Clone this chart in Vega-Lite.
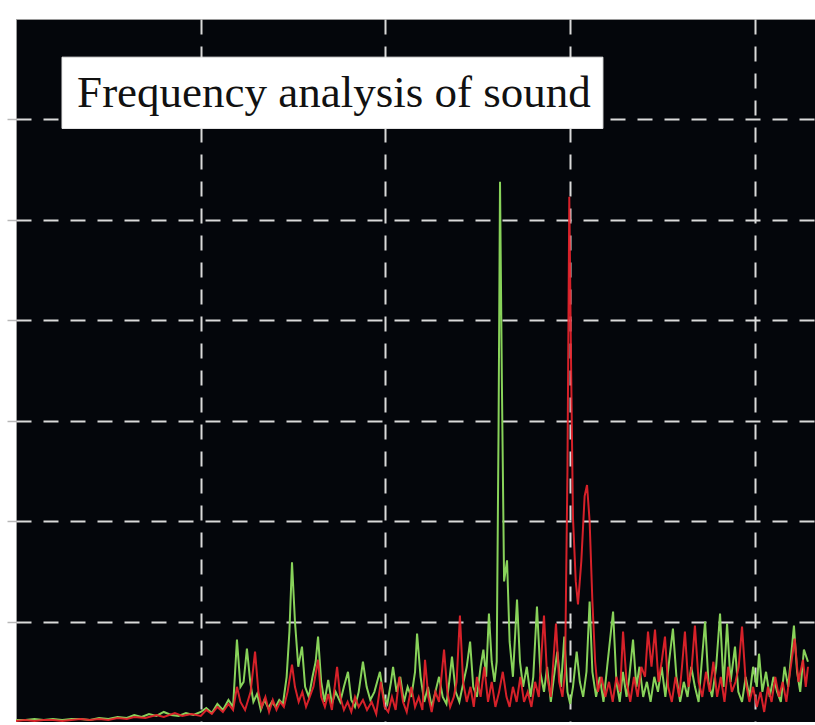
{
  "$schema": "https://vega.github.io/schema/vega-lite/v6.json",
  "width": 799,
  "height": 703,
  "autosize": {"type": "none"},
  "padding": {"left": 16, "top": 19, "right": 0, "bottom": 0},
  "background": "#ffffff",
  "config": {
    "view": {"fill": "#04060b", "stroke": "#9a9a9a", "strokeWidth": 1},
    "axis": {
      "grid": true,
      "gridColor": "#dadada",
      "gridDash": [15, 12],
      "gridWidth": 2,
      "gridOpacity": 1,
      "labels": false,
      "title": null,
      "domain": false
    }
  },
  "datasets": {
    "green": [
      {"f": 0, "a": 0.02}, {"f": 50, "a": 0.02}, {"f": 100, "a": 0.03}, {"f": 150, "a": 0.02},
      {"f": 200, "a": 0.03}, {"f": 250, "a": 0.02}, {"f": 300, "a": 0.03}, {"f": 350, "a": 0.03},
      {"f": 400, "a": 0.02}, {"f": 450, "a": 0.04}, {"f": 500, "a": 0.03}, {"f": 550, "a": 0.05},
      {"f": 600, "a": 0.04}, {"f": 640, "a": 0.07}, {"f": 680, "a": 0.05}, {"f": 720, "a": 0.08},
      {"f": 760, "a": 0.06}, {"f": 800, "a": 0.1}, {"f": 840, "a": 0.07}, {"f": 880, "a": 0.06},
      {"f": 920, "a": 0.09}, {"f": 960, "a": 0.07}, {"f": 1000, "a": 0.1}, {"f": 1030, "a": 0.14},
      {"f": 1060, "a": 0.09}, {"f": 1090, "a": 0.18}, {"f": 1120, "a": 0.12}, {"f": 1150, "a": 0.22},
      {"f": 1175, "a": 0.15}, {"f": 1196, "a": 0.82}, {"f": 1215, "a": 0.35}, {"f": 1232, "a": 0.4},
      {"f": 1250, "a": 0.73}, {"f": 1268, "a": 0.4}, {"f": 1285, "a": 0.2}, {"f": 1305, "a": 0.28},
      {"f": 1325, "a": 0.12}, {"f": 1345, "a": 0.22}, {"f": 1365, "a": 0.14}, {"f": 1385, "a": 0.2},
      {"f": 1405, "a": 0.15}, {"f": 1425, "a": 0.22}, {"f": 1445, "a": 0.18}, {"f": 1465, "a": 0.45},
      {"f": 1480, "a": 0.9}, {"f": 1494, "a": 1.59}, {"f": 1510, "a": 1.0}, {"f": 1528, "a": 0.55},
      {"f": 1548, "a": 0.75}, {"f": 1565, "a": 0.35}, {"f": 1585, "a": 0.25}, {"f": 1605, "a": 0.45},
      {"f": 1622, "a": 0.6}, {"f": 1635, "a": 0.85}, {"f": 1652, "a": 0.4}, {"f": 1670, "a": 0.2},
      {"f": 1690, "a": 0.42}, {"f": 1710, "a": 0.18}, {"f": 1730, "a": 0.3}, {"f": 1755, "a": 0.2},
      {"f": 1775, "a": 0.35}, {"f": 1797, "a": 0.5}, {"f": 1815, "a": 0.22}, {"f": 1835, "a": 0.15},
      {"f": 1855, "a": 0.3}, {"f": 1878, "a": 0.6}, {"f": 1898, "a": 0.35}, {"f": 1918, "a": 0.22},
      {"f": 1940, "a": 0.3}, {"f": 1970, "a": 0.5}, {"f": 1990, "a": 0.25}, {"f": 2010, "a": 0.18},
      {"f": 2030, "a": 0.4}, {"f": 2041, "a": 0.55}, {"f": 2060, "a": 0.3}, {"f": 2080, "a": 0.45},
      {"f": 2100, "a": 0.2}, {"f": 2120, "a": 0.35}, {"f": 2140, "a": 0.25}, {"f": 2160, "a": 0.5},
      {"f": 2171, "a": 0.88}, {"f": 2190, "a": 0.45}, {"f": 2210, "a": 0.2}, {"f": 2230, "a": 0.35},
      {"f": 2250, "a": 0.15}, {"f": 2270, "a": 0.3}, {"f": 2290, "a": 0.45}, {"f": 2310, "a": 0.25},
      {"f": 2330, "a": 0.18}, {"f": 2345, "a": 0.4}, {"f": 2360, "a": 0.65}, {"f": 2380, "a": 0.3},
      {"f": 2400, "a": 0.2}, {"f": 2420, "a": 0.38}, {"f": 2440, "a": 0.55}, {"f": 2458, "a": 0.8},
      {"f": 2475, "a": 0.35}, {"f": 2495, "a": 0.25}, {"f": 2515, "a": 0.55}, {"f": 2530, "a": 0.72},
      {"f": 2545, "a": 0.45}, {"f": 2560, "a": 1.08}, {"f": 2575, "a": 0.6}, {"f": 2590, "a": 0.4},
      {"f": 2602, "a": 0.6}, {"f": 2612, "a": 2.9}, {"f": 2620, "a": 5.38}, {"f": 2630, "a": 3.4},
      {"f": 2642, "a": 1.4}, {"f": 2658, "a": 1.61}, {"f": 2672, "a": 0.8}, {"f": 2690, "a": 0.45},
      {"f": 2712, "a": 1.22}, {"f": 2728, "a": 0.6}, {"f": 2745, "a": 0.35}, {"f": 2765, "a": 0.55},
      {"f": 2785, "a": 0.25}, {"f": 2800, "a": 0.45}, {"f": 2820, "a": 1.15}, {"f": 2838, "a": 0.5},
      {"f": 2858, "a": 0.3}, {"f": 2875, "a": 0.55}, {"f": 2895, "a": 0.2}, {"f": 2912, "a": 0.45},
      {"f": 2930, "a": 0.7}, {"f": 2950, "a": 0.35}, {"f": 2968, "a": 0.85}, {"f": 2985, "a": 0.3},
      {"f": 3000, "a": 0.18}, {"f": 3015, "a": 0.35}, {"f": 3035, "a": 0.7}, {"f": 3052, "a": 0.4},
      {"f": 3070, "a": 0.25}, {"f": 3088, "a": 0.5}, {"f": 3105, "a": 1.2}, {"f": 3120, "a": 0.5},
      {"f": 3140, "a": 0.25}, {"f": 3160, "a": 0.45}, {"f": 3180, "a": 0.2}, {"f": 3200, "a": 0.55},
      {"f": 3232, "a": 1.1}, {"f": 3250, "a": 0.4}, {"f": 3268, "a": 0.2}, {"f": 3285, "a": 0.5},
      {"f": 3305, "a": 0.25}, {"f": 3320, "a": 0.45}, {"f": 3340, "a": 0.82}, {"f": 3358, "a": 0.35},
      {"f": 3375, "a": 0.55}, {"f": 3395, "a": 0.25}, {"f": 3415, "a": 0.4}, {"f": 3435, "a": 0.2},
      {"f": 3455, "a": 0.45}, {"f": 3475, "a": 0.3}, {"f": 3495, "a": 0.55}, {"f": 3515, "a": 0.25},
      {"f": 3535, "a": 0.6}, {"f": 3556, "a": 0.93}, {"f": 3575, "a": 0.45}, {"f": 3595, "a": 0.2},
      {"f": 3615, "a": 0.4}, {"f": 3635, "a": 0.25}, {"f": 3655, "a": 0.55}, {"f": 3675, "a": 0.35},
      {"f": 3695, "a": 0.2}, {"f": 3712, "a": 0.6}, {"f": 3730, "a": 1.0}, {"f": 3748, "a": 0.4},
      {"f": 3768, "a": 0.25}, {"f": 3790, "a": 0.55}, {"f": 3811, "a": 1.08}, {"f": 3830, "a": 0.35},
      {"f": 3849, "a": 0.98}, {"f": 3868, "a": 0.4}, {"f": 3892, "a": 0.75}, {"f": 3910, "a": 0.3},
      {"f": 3930, "a": 0.2}, {"f": 3950, "a": 0.45}, {"f": 3970, "a": 0.25}, {"f": 3990, "a": 0.55},
      {"f": 4010, "a": 0.35}, {"f": 4022, "a": 0.68}, {"f": 4040, "a": 0.3}, {"f": 4060, "a": 0.5},
      {"f": 4080, "a": 0.25}, {"f": 4100, "a": 0.45}, {"f": 4120, "a": 0.3}, {"f": 4140, "a": 0.2},
      {"f": 4160, "a": 0.55}, {"f": 4180, "a": 0.35}, {"f": 4211, "a": 0.96}, {"f": 4228, "a": 0.5},
      {"f": 4245, "a": 0.3}, {"f": 4265, "a": 0.72}, {"f": 4287, "a": 0.6}
    ],
    "red": [
      {"f": 0, "a": 0.01}, {"f": 50, "a": 0.02}, {"f": 100, "a": 0.01}, {"f": 150, "a": 0.02},
      {"f": 200, "a": 0.02}, {"f": 250, "a": 0.01}, {"f": 300, "a": 0.02}, {"f": 350, "a": 0.03},
      {"f": 400, "a": 0.02}, {"f": 450, "a": 0.03}, {"f": 500, "a": 0.02}, {"f": 550, "a": 0.04},
      {"f": 600, "a": 0.03}, {"f": 640, "a": 0.05}, {"f": 700, "a": 0.04}, {"f": 760, "a": 0.07},
      {"f": 800, "a": 0.05}, {"f": 860, "a": 0.09}, {"f": 900, "a": 0.06}, {"f": 950, "a": 0.08},
      {"f": 1000, "a": 0.06}, {"f": 1030, "a": 0.12}, {"f": 1060, "a": 0.08}, {"f": 1090, "a": 0.15},
      {"f": 1120, "a": 0.1}, {"f": 1150, "a": 0.18}, {"f": 1175, "a": 0.12}, {"f": 1196, "a": 0.35},
      {"f": 1215, "a": 0.2}, {"f": 1240, "a": 0.12}, {"f": 1270, "a": 0.3}, {"f": 1294, "a": 0.7},
      {"f": 1312, "a": 0.3}, {"f": 1330, "a": 0.15}, {"f": 1350, "a": 0.25}, {"f": 1370, "a": 0.1},
      {"f": 1390, "a": 0.22}, {"f": 1410, "a": 0.12}, {"f": 1430, "a": 0.2}, {"f": 1450, "a": 0.15},
      {"f": 1470, "a": 0.3}, {"f": 1494, "a": 0.57}, {"f": 1510, "a": 0.35}, {"f": 1530, "a": 0.2},
      {"f": 1550, "a": 0.3}, {"f": 1570, "a": 0.15}, {"f": 1590, "a": 0.25}, {"f": 1610, "a": 0.35},
      {"f": 1635, "a": 0.62}, {"f": 1652, "a": 0.25}, {"f": 1672, "a": 0.15}, {"f": 1690, "a": 0.28},
      {"f": 1710, "a": 0.12}, {"f": 1738, "a": 0.55}, {"f": 1755, "a": 0.25}, {"f": 1775, "a": 0.12},
      {"f": 1795, "a": 0.2}, {"f": 1815, "a": 0.1}, {"f": 1835, "a": 0.25}, {"f": 1855, "a": 0.15},
      {"f": 1878, "a": 0.22}, {"f": 1900, "a": 0.12}, {"f": 1925, "a": 0.2}, {"f": 1950, "a": 0.08},
      {"f": 1975, "a": 0.4}, {"f": 1995, "a": 0.15}, {"f": 2015, "a": 0.1}, {"f": 2035, "a": 0.25},
      {"f": 2055, "a": 0.12}, {"f": 2075, "a": 0.45}, {"f": 2095, "a": 0.2}, {"f": 2115, "a": 0.1},
      {"f": 2140, "a": 0.35}, {"f": 2160, "a": 0.15}, {"f": 2180, "a": 0.25}, {"f": 2200, "a": 0.12},
      {"f": 2214, "a": 0.62}, {"f": 2232, "a": 0.25}, {"f": 2250, "a": 0.1}, {"f": 2270, "a": 0.3},
      {"f": 2290, "a": 0.2}, {"f": 2317, "a": 0.72}, {"f": 2335, "a": 0.3}, {"f": 2350, "a": 0.15},
      {"f": 2370, "a": 0.25}, {"f": 2385, "a": 0.4}, {"f": 2403, "a": 1.06}, {"f": 2420, "a": 0.4},
      {"f": 2440, "a": 0.2}, {"f": 2460, "a": 0.35}, {"f": 2478, "a": 0.15}, {"f": 2495, "a": 0.45},
      {"f": 2515, "a": 0.25}, {"f": 2535, "a": 0.55}, {"f": 2555, "a": 0.2}, {"f": 2575, "a": 0.4},
      {"f": 2595, "a": 0.15}, {"f": 2615, "a": 0.3}, {"f": 2635, "a": 0.5}, {"f": 2655, "a": 0.25},
      {"f": 2672, "a": 0.15}, {"f": 2690, "a": 0.35}, {"f": 2710, "a": 0.2}, {"f": 2730, "a": 0.45},
      {"f": 2750, "a": 0.2}, {"f": 2770, "a": 0.3}, {"f": 2790, "a": 0.15}, {"f": 2810, "a": 0.4},
      {"f": 2830, "a": 0.25}, {"f": 2858, "a": 1.06}, {"f": 2875, "a": 0.45}, {"f": 2895, "a": 0.25},
      {"f": 2923, "a": 0.98}, {"f": 2940, "a": 0.4}, {"f": 2958, "a": 0.25}, {"f": 2972, "a": 0.5},
      {"f": 2985, "a": 2.5}, {"f": 2995, "a": 5.23}, {"f": 3005, "a": 3.5}, {"f": 3015, "a": 2.03},
      {"f": 3030, "a": 1.4}, {"f": 3042, "a": 1.17}, {"f": 3060, "a": 1.6}, {"f": 3078, "a": 2.25},
      {"f": 3091, "a": 2.36}, {"f": 3105, "a": 2.0}, {"f": 3120, "a": 1.2}, {"f": 3135, "a": 0.6},
      {"f": 3150, "a": 0.3}, {"f": 3170, "a": 0.45}, {"f": 3190, "a": 0.25}, {"f": 3210, "a": 0.4},
      {"f": 3230, "a": 0.2}, {"f": 3250, "a": 0.45}, {"f": 3270, "a": 0.3}, {"f": 3286, "a": 0.9},
      {"f": 3305, "a": 0.4}, {"f": 3325, "a": 0.2}, {"f": 3345, "a": 0.45}, {"f": 3365, "a": 0.25},
      {"f": 3385, "a": 0.55}, {"f": 3405, "a": 0.45}, {"f": 3421, "a": 0.9}, {"f": 3440, "a": 0.55},
      {"f": 3459, "a": 0.92}, {"f": 3478, "a": 0.4}, {"f": 3495, "a": 0.6}, {"f": 3513, "a": 0.85},
      {"f": 3530, "a": 0.35}, {"f": 3550, "a": 0.2}, {"f": 3570, "a": 0.45}, {"f": 3590, "a": 0.25},
      {"f": 3605, "a": 0.55}, {"f": 3621, "a": 0.9}, {"f": 3640, "a": 0.35}, {"f": 3658, "a": 0.55},
      {"f": 3675, "a": 0.96}, {"f": 3695, "a": 0.4}, {"f": 3715, "a": 0.25}, {"f": 3735, "a": 0.5},
      {"f": 3755, "a": 0.3}, {"f": 3775, "a": 0.6}, {"f": 3795, "a": 0.25}, {"f": 3815, "a": 0.45},
      {"f": 3835, "a": 0.2}, {"f": 3855, "a": 0.55}, {"f": 3875, "a": 0.3}, {"f": 3895, "a": 0.4},
      {"f": 3912, "a": 0.55}, {"f": 3930, "a": 0.95}, {"f": 3950, "a": 0.4}, {"f": 3970, "a": 0.2},
      {"f": 3990, "a": 0.35}, {"f": 4010, "a": 0.15}, {"f": 4030, "a": 0.3}, {"f": 4050, "a": 0.1},
      {"f": 4070, "a": 0.35}, {"f": 4090, "a": 0.2}, {"f": 4110, "a": 0.45}, {"f": 4130, "a": 0.25},
      {"f": 4150, "a": 0.4}, {"f": 4170, "a": 0.2}, {"f": 4190, "a": 0.5}, {"f": 4215, "a": 0.83},
      {"f": 4235, "a": 0.4}, {"f": 4260, "a": 0.62}, {"f": 4275, "a": 0.35}, {"f": 4287, "a": 0.55}
    ],
    "caption": [{"label": "Frequency analysis of sound"}]
  },
  "layer": [
    {
      "data": {"name": "green"},
      "mark": {"type": "line", "color": "#88d25a", "strokeWidth": 2, "clip": true},
      "encoding": {
        "x": {
          "field": "f",
          "type": "quantitative",
          "scale": {"domain": [0, 4325], "nice": false, "zero": false},
          "axis": {"values": [1000, 2000, 3000, 4000], "ticks": false}
        },
        "y": {
          "field": "a",
          "type": "quantitative",
          "scale": {"domain": [0, 7], "nice": false},
          "axis": {"values": [1, 2, 3, 4, 5, 6], "ticks": true, "tickColor": "#b8b8b8", "tickSize": 9, "tickWidth": 1.5}
        }
      }
    },
    {
      "data": {"name": "red"},
      "mark": {"type": "line", "color": "#e6242c", "strokeWidth": 2, "strokeOpacity": 0.93, "clip": true},
      "encoding": {
        "x": {"field": "f", "type": "quantitative"},
        "y": {"field": "a", "type": "quantitative"}
      }
    },
    {
      "data": {"name": "caption"},
      "mark": {"type": "rect", "fill": "#ffffff", "stroke": "#e8e8e8", "strokeWidth": 1},
      "encoding": {
        "x": {"datum": 249, "type": "quantitative"},
        "x2": {"datum": 3177},
        "y": {"datum": 5.91, "type": "quantitative"},
        "y2": {"datum": 6.62}
      }
    },
    {
      "data": {"name": "caption"},
      "mark": {"type": "text", "font": "Liberation Serif", "fontSize": 45, "color": "#111111", "align": "center", "baseline": "alphabetic"},
      "encoding": {
        "x": {"datum": 1721, "type": "quantitative"},
        "y": {"datum": 6.12, "type": "quantitative"},
        "text": {"field": "label"}
      }
    }
  ]
}
